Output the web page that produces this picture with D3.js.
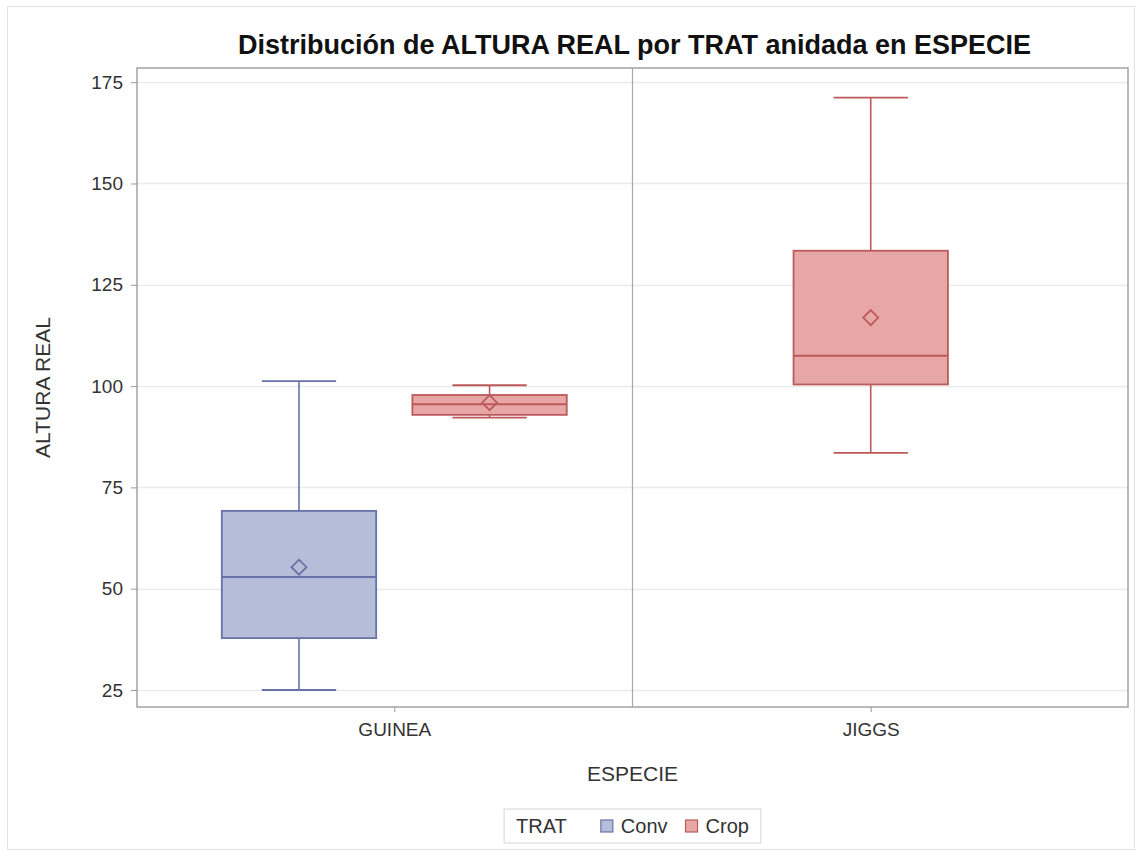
<!DOCTYPE html>
<html lang="es">
<head>
<meta charset="utf-8">
<title>Distribución de ALTURA REAL por TRAT anidada en ESPECIE</title>
<script src="https://cdn.jsdelivr.net/npm/d3@7"></script>
<style>
  html, body { margin: 0; padding: 0; background: #ffffff; }
  svg { display: block; font-family: "Liberation Sans", Arial, sans-serif; }
</style>
</head>
<body>
<svg id="chart" width="1142" height="856"></svg>
<script>
// Categories and groups
const especies = ["GUINEA", "JIGGS"];
const tratamientos = ["Conv", "Crop"];

// One entry per box: species, treatment and five-number summary plus mean
const cajaEspecie = ["GUINEA", "GUINEA", "JIGGS"];
const cajaTrat    = ["Conv",   "Crop",   "Crop"];
const minimos     = [25.0,  92.2,  83.5];
const cuartil1    = [37.8,  92.9, 100.4];
const medianas    = [52.9,  95.5, 107.5];
const medias      = [55.3,  95.9, 116.9];
const cuartil3    = [69.2,  97.8, 133.4];
const maximos     = [101.2, 100.2, 171.2];

// Axis ticks
const yTicks = [25, 50, 75, 100, 125, 150, 175];

const svg = d3.select("#chart");
const W = 1142, H = 856;
const plot = { left: 137, right: 1128, top: 68, bottom: 707 };
const txt = "#333333";

const relleno = d3.scaleOrdinal().domain(tratamientos).range(["#b6bdd9", "#e8a7a7"]);
const trazo   = d3.scaleOrdinal().domain(tratamientos).range(["#6772a8", "#bc5a5a"]);

// Outer frame of the graphic
svg.append("rect")
  .attr("x", 7.5).attr("y", 6.5)
  .attr("width", W - 15).attr("height", H - 13)
  .attr("fill", "#ffffff").attr("stroke", "#e3e3e3").attr("stroke-width", 1);

const y = d3.scaleLinear().domain([20.8, 178.5]).range([plot.bottom, plot.top]);
const x = d3.scalePoint().domain(especies).range([plot.left, plot.right]).padding(0.54);
const slot = x.step() * 0.4;

// Horizontal grid
svg.append("g")
  .selectAll("line")
  .data(yTicks)
  .join("line")
  .attr("x1", plot.left).attr("x2", plot.right)
  .attr("y1", d => Math.round(y(d)) + 0.5).attr("y2", d => Math.round(y(d)) + 0.5)
  .attr("stroke", "#ebebeb").attr("stroke-width", 1.5);

// Divider between species
const xDiv = (x(especies[0]) + x(especies[1])) / 2;
svg.append("line")
  .attr("x1", xDiv).attr("x2", xDiv)
  .attr("y1", plot.top).attr("y2", plot.bottom)
  .attr("stroke", "#a8a8a8").attr("stroke-width", 1.2);

// Boxes
const cajas = cajaEspecie.map((e, i) => ({
  especie: e, trat: cajaTrat[i],
  min: minimos[i], q1: cuartil1[i], med: medianas[i],
  media: medias[i], q3: cuartil3[i], max: maximos[i]
}));

cajas.forEach(c => {
  const presentes = tratamientos.filter(t => cajas.some(k => k.especie === c.especie && k.trat === t));
  const sub = d3.scaleBand().domain(presentes)
    .range([-presentes.length * slot / 2, presentes.length * slot / 2]);
  const cx = x(c.especie) + sub(c.trat) + sub.bandwidth() / 2;
  const bw = sub.bandwidth() * 0.81;
  const cap = sub.bandwidth() * 0.39;
  const col = trazo(c.trat);
  const g = svg.append("g");

  // whiskers
  g.append("line").attr("x1", cx).attr("x2", cx)
    .attr("y1", y(c.q3)).attr("y2", y(c.max))
    .attr("stroke", col).attr("stroke-width", 1.6);
  g.append("line").attr("x1", cx).attr("x2", cx)
    .attr("y1", y(c.q1)).attr("y2", y(c.min))
    .attr("stroke", col).attr("stroke-width", 1.6);
  g.append("line").attr("x1", cx - cap / 2).attr("x2", cx + cap / 2)
    .attr("y1", y(c.max)).attr("y2", y(c.max))
    .attr("stroke", col).attr("stroke-width", 1.8);
  g.append("line").attr("x1", cx - cap / 2).attr("x2", cx + cap / 2)
    .attr("y1", y(c.min)).attr("y2", y(c.min))
    .attr("stroke", col).attr("stroke-width", 1.8);

  // interquartile box
  g.append("rect")
    .attr("x", cx - bw / 2).attr("width", bw)
    .attr("y", y(c.q3)).attr("height", y(c.q1) - y(c.q3))
    .attr("fill", relleno(c.trat)).attr("stroke", col).attr("stroke-width", 1.8);

  // median
  g.append("line").attr("x1", cx - bw / 2).attr("x2", cx + bw / 2)
    .attr("y1", y(c.med)).attr("y2", y(c.med))
    .attr("stroke", col).attr("stroke-width", 2);

  // mean marker
  const r = 7.5;
  const my = y(c.media);
  g.append("path")
    .attr("d", `M${cx},${my - r}L${cx + r},${my}L${cx},${my + r}L${cx - r},${my}Z`)
    .attr("fill", "none").attr("stroke", col).attr("stroke-width", 1.8);
});

// Plot frame
svg.append("rect")
  .attr("x", plot.left).attr("y", plot.top)
  .attr("width", plot.right - plot.left).attr("height", plot.bottom - plot.top)
  .attr("fill", "none").attr("stroke", "#a3a3a3").attr("stroke-width", 1.5);

// Y axis
const yAxis = svg.append("g")
  .attr("transform", `translate(${plot.left},0)`)
  .call(d3.axisLeft(y).tickValues(yTicks).tickSize(6).tickPadding(8));
yAxis.select(".domain").remove();
yAxis.selectAll(".tick line").attr("stroke", "#9a9a9a");
yAxis.selectAll(".tick text")
  .attr("fill", txt).style("font-size", "19px")
  .style("font-family", "'Liberation Sans', Arial, sans-serif");

// X axis
const xAxis = svg.append("g")
  .attr("transform", `translate(0,${plot.bottom})`)
  .call(d3.axisBottom(x).tickSize(5).tickPadding(11));
xAxis.select(".domain").remove();
xAxis.selectAll(".tick line").attr("stroke", "#9a9a9a");
xAxis.selectAll(".tick text")
  .attr("fill", txt).style("font-size", "19px")
  .style("font-family", "'Liberation Sans', Arial, sans-serif");

// Axis titles
svg.append("text")
  .attr("x", (plot.left + plot.right) / 2).attr("y", 781)
  .attr("text-anchor", "middle")
  .attr("fill", txt).style("font-size", "21px")
  .text("ESPECIE");

svg.append("text")
  .attr("transform", `translate(50,${(plot.top + plot.bottom) / 2}) rotate(-90)`)
  .attr("text-anchor", "middle")
  .attr("fill", txt).style("font-size", "21px")
  .text("ALTURA REAL");

// Title
svg.append("text")
  .attr("x", (plot.left + plot.right) / 2 + 2).attr("y", 54)
  .attr("text-anchor", "middle")
  .attr("fill", "#111111").style("font-size", "27px").style("font-weight", "bold")
  .text("Distribución de ALTURA REAL por TRAT anidada en ESPECIE");

// Legend
const legFont = "20px";
const leg = svg.append("g").attr("transform", "translate(0,826)");
const legItems = leg.append("g");
legItems.append("text").attr("x", 0).attr("y", 0).attr("dy", "0.35em")
  .attr("fill", txt).style("font-size", legFont).text("TRAT");
const trat0 = legItems.select("text").node().getComputedTextLength();
let cursor = trat0 + 34;
tratamientos.forEach(t => {
  legItems.append("rect")
    .attr("x", cursor).attr("y", -6).attr("width", 12).attr("height", 12)
    .attr("fill", relleno(t)).attr("stroke", trazo(t)).attr("stroke-width", 1.2);
  const tx = legItems.append("text").attr("x", cursor + 20).attr("y", 0).attr("dy", "0.35em")
    .attr("fill", txt).style("font-size", legFont).text(t);
  cursor += 20 + tx.node().getComputedTextLength() + 18;
});
const legW = cursor - 18 + 24;
const legX = (plot.left + plot.right) / 2 - legW / 2;
legItems.attr("transform", `translate(${legX + 12},0)`);
leg.insert("rect", ":first-child")
  .attr("x", legX).attr("y", -17).attr("width", legW).attr("height", 34)
  .attr("fill", "#ffffff").attr("stroke", "#d6d6d6").attr("stroke-width", 1);
</script>
</body>
</html>
